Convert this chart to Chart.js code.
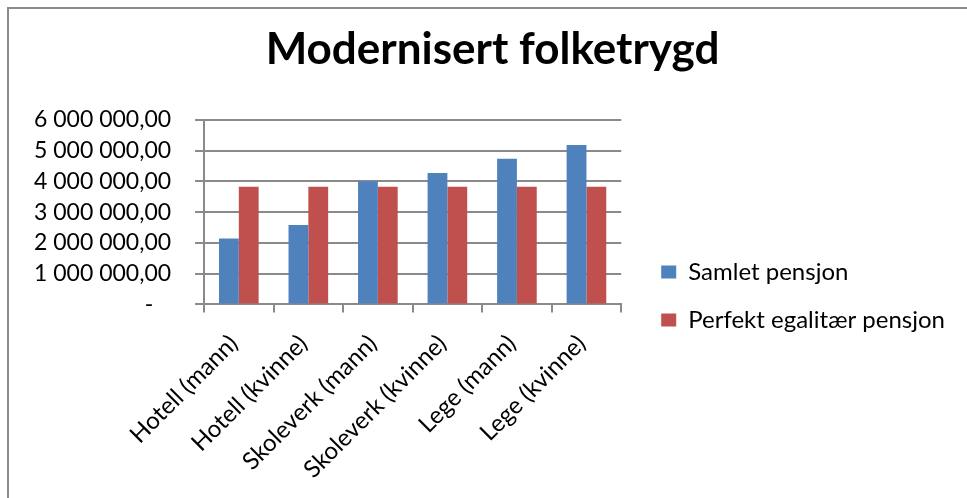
<!DOCTYPE html>
<html>
<head>
<meta charset="utf-8">
<script src="https://cdn.jsdelivr.net/npm/chart.js@4"></script>
<style>
  html, body { margin: 0; padding: 0; background: #fff; }
  #wrap {
    position: absolute; left: 7px; top: 7px;
    width: 960px; height: 491px;
    border-left: 2px solid #8a8a8a; border-top: 2px solid #8a8a8a;
  }
  canvas { display: block; }
</style>
</head>
<body>
<div id="wrap"><canvas id="chart" width="958" height="489"></canvas></div>
<script>
// ---- data ----------------------------------------------------------
const categories = [
  "Hotell (mann)", "Hotell (kvinne)", "Skoleverk (mann)",
  "Skoleverk (kvinne)", "Lege (mann)", "Lege (kvinne)",
];
const samletPensjon    = [2140000, 2580000, 4000000, 4270000, 4730000, 5180000];
const egalitaerPensjon = [3820000, 3820000, 3820000, 3820000, 3820000, 3820000];
const yTicks = [0, 1000000, 2000000, 3000000, 4000000, 5000000, 6000000];

const FONT = "Lato, 'Open Sans', sans-serif";
const GRID = "#8a8a8a";

// Excel-style "6 000 000,00", zero shown as dash
function fmt(v) {
  if (v === 0) return "-   ";
  const s = Math.round(v).toString().replace(/\B(?=(\d{3})+(?!\d))/g, " ");
  return s + ",00";
}

// let the legend take its full width, reserve some extra room (ex),
// and shift the drawn items (dx, dy) to where Excel puts them
const legendGap = {
  id: "legendGap",
  afterInit(chart, args, opts) {
    const lg = chart.legend;
    const fit = lg.fit.bind(lg);
    lg.fit = () => { lg.maxWidth = 600; fit(); lg.width += opts.ex; };
    const draw = lg.draw.bind(lg);
    lg.draw = () => {
      chart.ctx.save();
      chart.ctx.translate(opts.dx, opts.dy);
      draw();
      chart.ctx.restore();
    };
  },
};

new Chart(document.getElementById("chart"), {
  type: "bar",
  data: {
    labels: categories,
    datasets: [
      { label: "Samlet pensjon", data: samletPensjon, backgroundColor: "#4F81BD" },
      { label: "Perfekt egalitær pensjon", data: egalitaerPensjon, backgroundColor: "#C0504D" },
    ],
  },
  plugins: [legendGap],
  options: {
    responsive: false,
    animation: false,
    layout: { padding: { left: 9, right: 0, top: 0, bottom: 5 } },
    categoryPercentage: 0.57,
    barPercentage: 1.0,
    plugins: {
      legendGap: { ex: 28, dx: 16, dy: 45 },
      title: {
        display: true,
        text: "Modernisert folketrygd",
        color: "#000",
        font: { family: FONT, size: 44, weight: "bold" },
        padding: { top: 14, bottom: 44 },
      },
      legend: {
        position: "right",
        labels: {
          color: "#000",
          font: { family: FONT, size: 24 },
          boxWidth: 15,
          boxHeight: 13,
          padding: 24,
        },
      },
      tooltip: { enabled: false },
    },
    scales: {
      x: {
        afterFit: (axis) => { axis.height -= 8; },
        grid: { display: true, drawOnChartArea: false, color: GRID, lineWidth: 2, tickLength: 8 },
        border: { color: GRID, width: 2 },
        ticks: {
          color: "#000",
          font: { family: FONT, size: 24 },
          autoSkip: false,
          minRotation: 45, maxRotation: 45,
          padding: 17,
          labelOffset: -5,
        },
      },
      y: {
        min: 0, max: 6000000,
        afterBuildTicks: (axis) => { axis.ticks = yTicks.map((v) => ({ value: v })); },
        afterFit: (axis) => { axis.width -= 8; },
        grid: { color: GRID, lineWidth: 2, tickLength: 9 },
        border: { color: GRID, width: 2 },
        ticks: {
          color: "#000",
          font: { family: FONT, size: 23 },
          autoSkip: false,
          padding: 24,
          callback: (v) => fmt(v),
        },
      },
    },
  },
});
</script>
</body>
</html>
